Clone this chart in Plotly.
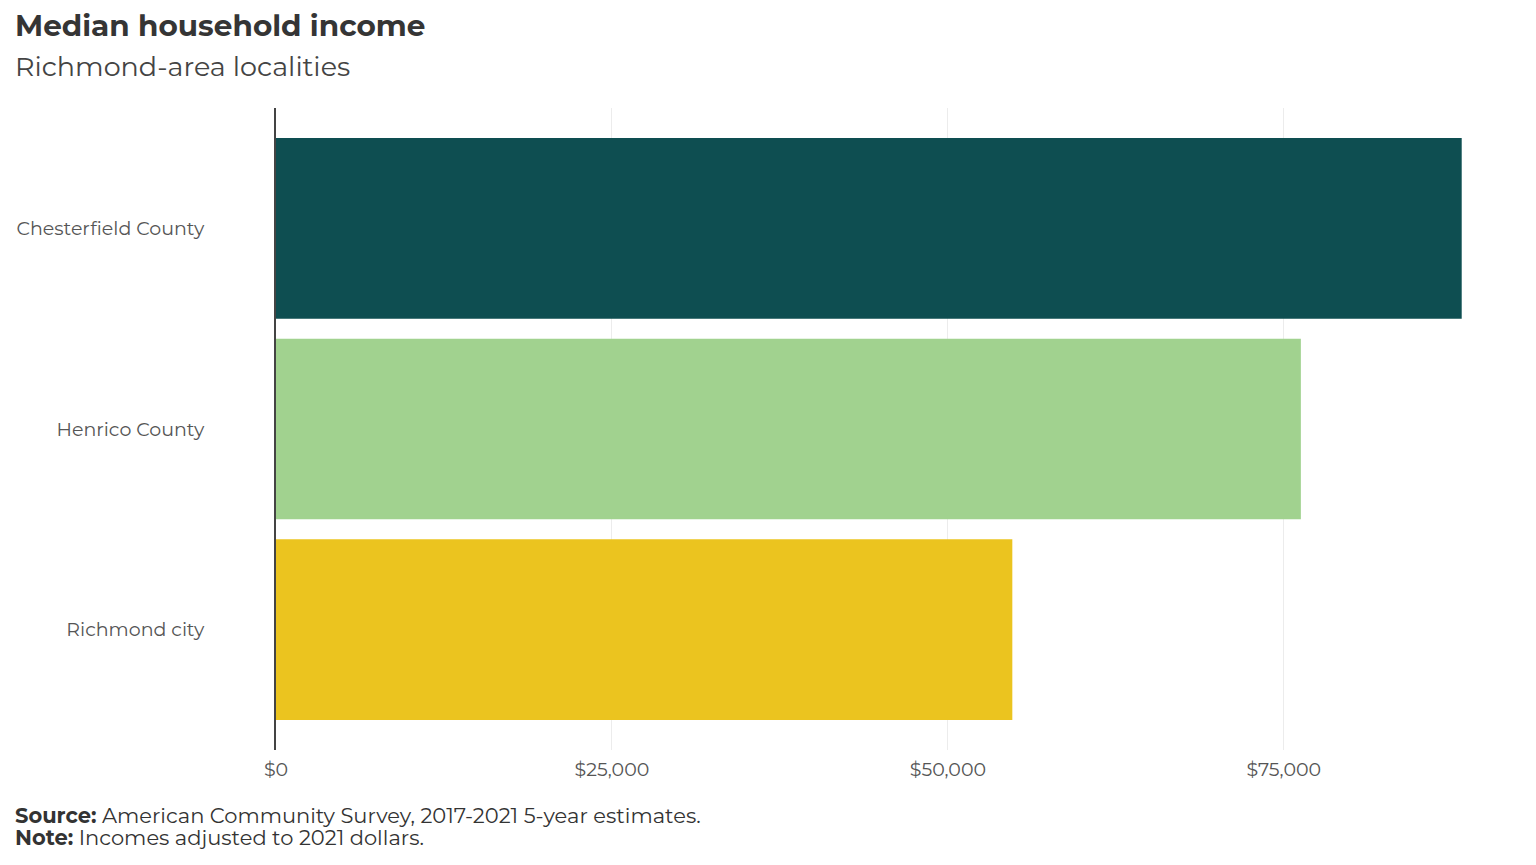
import plotly.graph_objects as go

localities = ["Chesterfield County", "Henrico County", "Richmond city"]
median_income = [88238, 76268, 54795]
bar_colors = ["#0e4e51", "#a1d28f", "#ebc41f"]
tick_values = [0, 25000, 50000, 75000]
tick_labels = ["$0", "$25,000", "$50,000", "$75,000"]
footer_lines = [
    "<b>Source:</b> American Community Survey, 2017-2021 5-year estimates.",
    "<b>Note:</b> Incomes adjusted to 2021 dollars.",
]

font_family = "Montserrat, 'DejaVu Sans', sans-serif"
W, H = 1536, 865
# page body adds an 8px offset, so the margins are shifted to compensate
off = 8
left = 276 - off
plot_w = 1245
plot_h = 642
text_x = -(left - 5) / plot_w

fig = go.Figure()
fig.add_trace(go.Bar(
    y=localities,
    x=median_income,
    orientation="h",
    marker={"color": bar_colors, "line": {"width": 0}},
    width=0.9,
    showlegend=False,
))

fig.update_layout(
    width=W, height=H,
    margin={"l": left, "r": W - left - plot_w, "t": 108 - off,
            "b": H - (108 - off) - plot_h},
    plot_bgcolor="white",
    paper_bgcolor="white",
    font={"family": font_family, "color": "#555555"},
    title={
        "text": "<b>Median household income</b>",
        "font": {"size": 29.5, "color": "#353535", "family": font_family},
        "x": (15 - off) / W, "xanchor": "left", "xref": "container",
        "y": 1 - (26 - off) / H, "yanchor": "middle", "yref": "container",
    },
    xaxis={
        "range": [0, max(median_income) * 1.05],
        "tickvals": tick_values,
        "ticktext": tick_labels,
        "showgrid": True,
        "gridcolor": "#ececec",
        "gridwidth": 1,
        "zeroline": False,
        "showline": False,
        "ticks": "",
        "tickfont": {"size": 19, "color": "#555555"},
        "ticklabelstandoff": 6,
        "automargin": False,
    },
    yaxis={
        "categoryorder": "array",
        "categoryarray": localities[::-1],
        "range": [-0.6, 2.6],
        "showgrid": False,
        "zeroline": False,
        "showline": True,
        "linecolor": "#444444",
        "linewidth": 2,
        "ticks": "",
        "tickfont": {"size": 19, "color": "#555555"},
        "ticklabelstandoff": 66,
        "automargin": False,
    },
    bargap=0.1,
)

fig.add_annotation(
    text="Richmond-area localities",
    xref="paper", yref="paper",
    x=text_x, y=1 + (108 - 66) / plot_h,
    xanchor="left", yanchor="middle",
    showarrow=False,
    font={"size": 27, "color": "#444444", "family": font_family},
)

for i, line in enumerate(footer_lines):
    fig.add_annotation(
        text=line,
        xref="paper", yref="paper",
        x=text_x, y=-(815 + 22 * i - 750) / plot_h,
        xanchor="left", yanchor="middle",
        align="left",
        showarrow=False,
        font={"size": 21, "color": "#333333", "family": font_family},
    )

fig.write_html("out.html")
